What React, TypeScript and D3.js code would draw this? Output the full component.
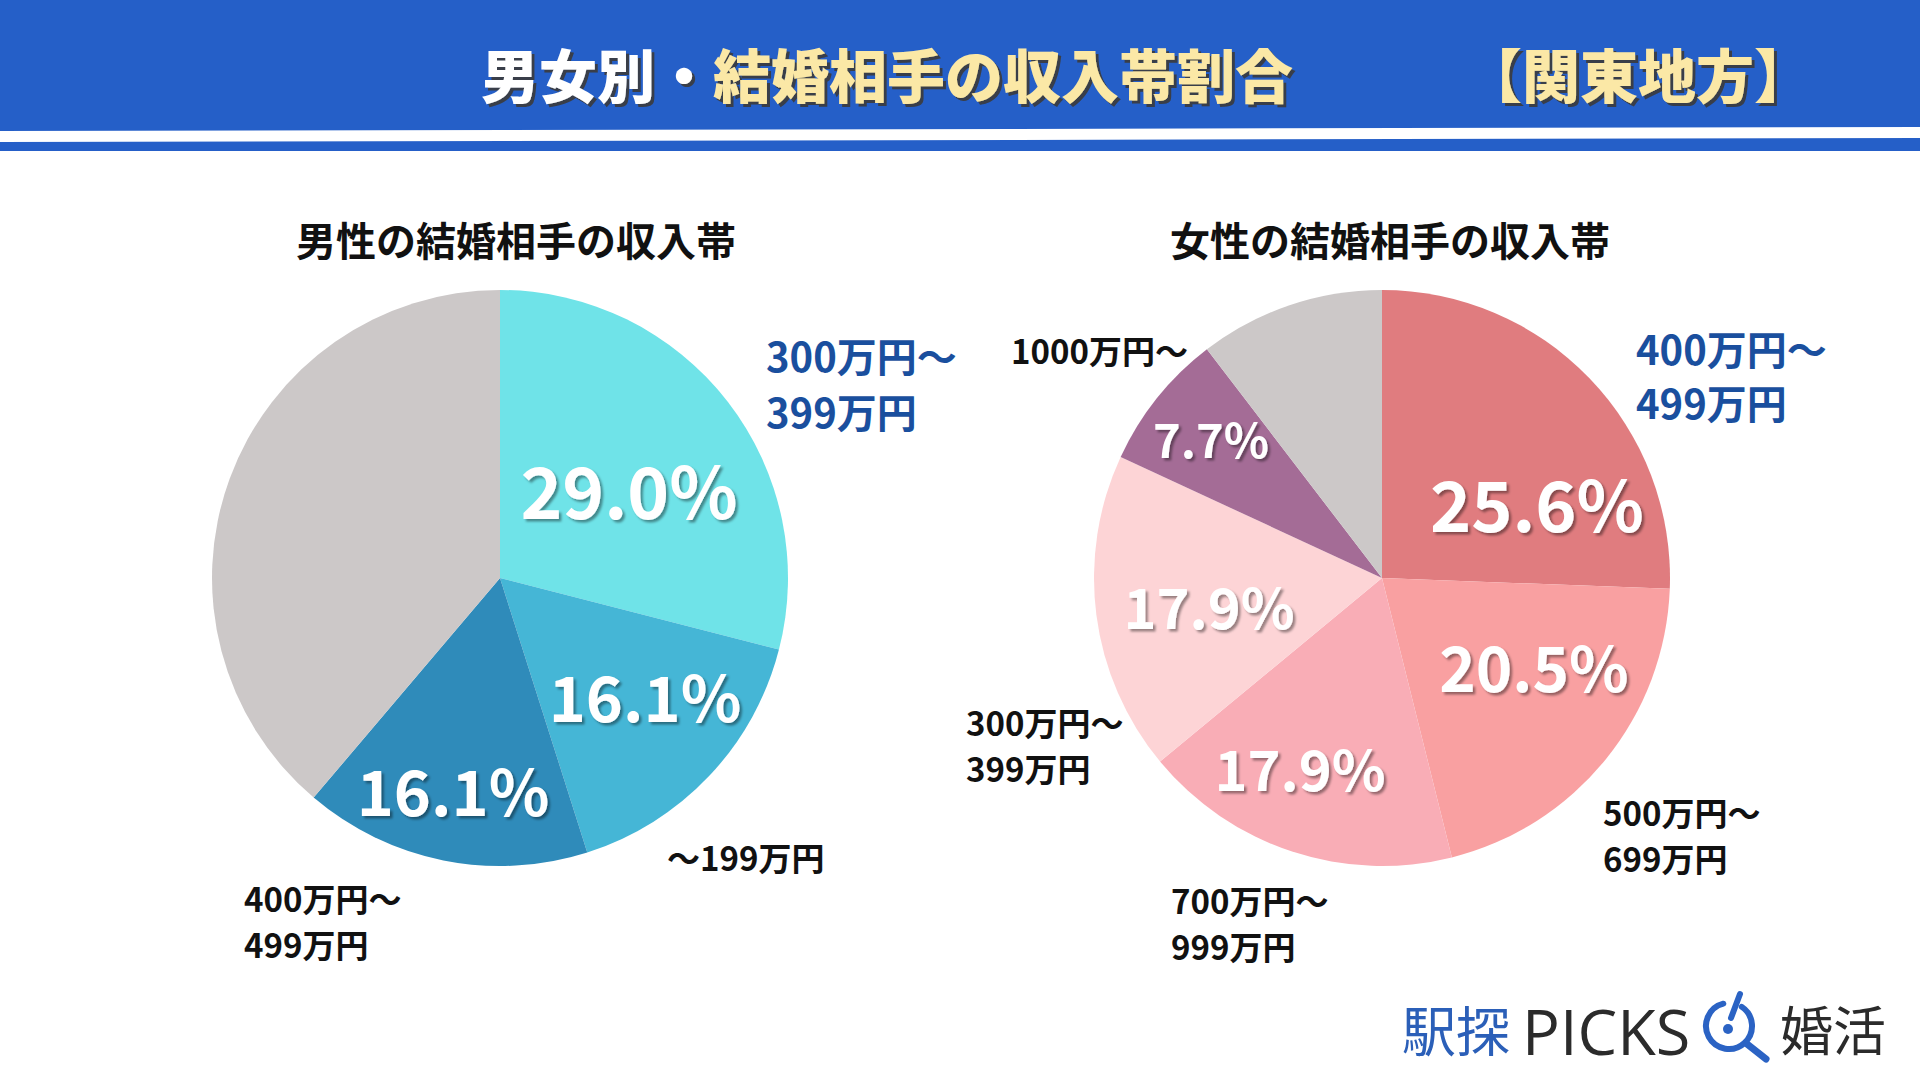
import React from "react";
import * as d3 from "d3";

// ---- data ----
const maleCategories = ["300万円〜399万円", "〜199万円", "400万円〜499万円", "その他"];
const maleValues = [29.0, 16.1, 16.1, 38.8];
const maleShown = ["29.0%", "16.1%", "16.1%", ""];

const femaleCategories = ["400万円〜499万円", "500万円〜699万円", "700万円〜999万円", "300万円〜399万円", "1000万円〜", "その他"];
const femaleValues = [25.6, 20.5, 17.9, 17.9, 7.7, 10.4];
const femaleShown = ["25.6%", "20.5%", "17.9%", "17.9%", "7.7%", ""];

// ---- styles / layout ----
const maleColors = ["#6fe3e8", "#45b6d6", "#2f8bba", "#ccc8c8"];
const femaleColors = ["#e07c7f", "#f9a0a1", "#f9adb6", "#fdd4d6", "#a46c96", "#ccc8c8"];

const R = 288;
const maleCenter = { x: 500, y: 578 };
const femaleCenter = { x: 1382, y: 578 };

const malePctOffsets = [
  { dx: 129, dy: -90, size: 71 },
  { dx: 145, dy: 116, size: 63 },
  { dx: -47, dy: 210, size: 63 },
];
const femalePctOffsets = [
  { dx: 155, dy: -77, size: 70 },
  { dx: 152, dy: 87, size: 62 },
  { dx: -82, dy: 188, size: 56 },
  { dx: -173, dy: 26, size: 56 },
  { dx: -171, dy: -141, size: 47 },
];

type OuterLabel = { lines: string[]; x: number; y: number; size: number; color: string; lh: number };
const maleOuter: OuterLabel[] = [
  { lines: ["300万円〜", "399万円"], x: 766, y: 355, size: 40, color: "#1a4f9e", lh: 56 },
  { lines: ["〜199万円"], x: 667, y: 857, size: 33, color: "#111", lh: 46 },
  { lines: ["400万円〜", "499万円"], x: 244, y: 898, size: 33, color: "#111", lh: 46 },
];
const femaleOuter: OuterLabel[] = [
  { lines: ["400万円〜", "499万円"], x: 1636, y: 348, size: 40, color: "#1a4f9e", lh: 54 },
  { lines: ["1000万円〜"], x: 1011, y: 350, size: 33, color: "#111", lh: 46 },
  { lines: ["300万円〜", "399万円"], x: 966, y: 722, size: 33, color: "#111", lh: 46 },
  { lines: ["500万円〜", "699万円"], x: 1603, y: 812, size: 33, color: "#111", lh: 46 },
  { lines: ["700万円〜", "999万円"], x: 1171, y: 900, size: 33, color: "#111", lh: 46 },
];

const FONT = "'Noto Sans CJK JP', 'Noto Sans', sans-serif";

function Pie({
  values, colors, shown, cx, cy, offsets, outer, cats,
}: {
  values: number[]; colors: string[]; shown: string[]; cx: number; cy: number;
  offsets: { dx: number; dy: number; size: number }[]; outer: OuterLabel[]; cats: string[];
}) {
  const pie = d3.pie<number>().sort(null).value((d) => d).startAngle(0).endAngle(2 * Math.PI);
  const arcs = pie(values);
  const arc = d3.arc<d3.PieArcDatum<number>>().innerRadius(0).outerRadius(R);
  return (
    <g>
      <g transform={`translate(${cx},${cy})`}>
        {arcs.map((a, i) => (
          <path key={cats[i]} d={arc(a) || ""} fill={colors[i]} />
        ))}
        {arcs.map((a, i) =>
          shown[i] && offsets[i] ? (
            <text
              key={"t" + i}
              x={offsets[i].dx}
              y={offsets[i].dy}
              textAnchor="middle"
              dominantBaseline="central"
              fontFamily={FONT}
              fontWeight={700}
              fontSize={offsets[i].size}
              fill="#fff"
              filter="url(#pctShadow)"
            >
              {shown[i]}
            </text>
          ) : null
        )}
      </g>
      {outer.map((o, i) => (
        <text key={"o" + i} fontFamily={FONT} fontWeight={700} fontSize={o.size} fill={o.color}>
          {o.lines.map((l, j) => (
            <tspan key={j} x={o.x} y={o.y + j * o.lh} dominantBaseline="central">
              {l}
            </tspan>
          ))}
        </text>
      ))}
    </g>
  );
}

export default function App() {
  const logoY = 1028;
  return (
    <svg
      width={1920}
      height={1080}
      style={{ position: "absolute", left: 0, top: 0, display: "block", background: "#fff" }}
    >
      <defs>
        <filter id="pctShadow" x="-20%" y="-20%" width="140%" height="140%">
          <feDropShadow dx="2.5" dy="2.5" stdDeviation="1.2" floodColor="#000" floodOpacity="0.4" />
        </filter>
        <filter id="titleShadow" x="-5%" y="-20%" width="110%" height="140%">
          <feDropShadow dx="3" dy="3" stdDeviation="0.6" floodColor="#3a3a3a" floodOpacity="0.9" />
        </filter>
      </defs>
      <rect x={0} y={0} width={1920} height={1080} fill="#fff" />
      {/* header */}
      <rect x={0} y={0} width={1920} height={131} fill="#255fc8" />
      <polygon points="0,131 1920,127 1920,138 0,142" fill="#fff" />
      <polygon points="0,142 1920,138 1920,151 0,151" fill="#255fc8" />
      <text
        x={481}
        y={73}
        dominantBaseline="central"
        fontFamily={FONT}
        fontWeight={900}
        fontSize={58}
        filter="url(#titleShadow)"
      >
        <tspan fill="#ffffff">男女別・</tspan>
        <tspan fill="#fbe8a6">結婚相手の収入帯割合</tspan>
      </text>
      <text
        x={1638}
        y={73}
        textAnchor="middle"
        dominantBaseline="central"
        fontFamily={FONT}
        fontWeight={900}
        fontSize={58}
        fill="#fbe8a6"
        filter="url(#titleShadow)"
      >
        【関東地方】
      </text>

      {/* subtitles */}
      <text x={516} y={239} textAnchor="middle" dominantBaseline="central" fontFamily={FONT} fontWeight={700} fontSize={40} fill="#111">
        男性の結婚相手の収入帯
      </text>
      <text x={1390} y={239} textAnchor="middle" dominantBaseline="central" fontFamily={FONT} fontWeight={700} fontSize={40} fill="#111">
        女性の結婚相手の収入帯
      </text>

      <Pie
        values={maleValues}
        colors={maleColors}
        shown={maleShown}
        cx={maleCenter.x}
        cy={maleCenter.y}
        offsets={malePctOffsets}
        outer={maleOuter}
        cats={maleCategories}
      />
      <Pie
        values={femaleValues}
        colors={femaleColors}
        shown={femaleShown}
        cx={femaleCenter.x}
        cy={femaleCenter.y}
        offsets={femalePctOffsets}
        outer={femaleOuter}
        cats={femaleCategories}
      />

      {/* logo */}
      <text x={1402} y={logoY} dominantBaseline="central" fontFamily={FONT} fontWeight={400} fontSize={54} fill="#2b5fb8">
        駅探
      </text>
      <text x={1522} y={logoY + 2} dominantBaseline="central" fontFamily="'Open Sans', 'Noto Sans', sans-serif" fontWeight={400} fontSize={63} fill="#2b2b2b">
        PICKS
      </text>
      <g transform={`translate(1729,1026)`}>
        <path
          d={(() => {
            const p = d3.path();
            p.arc(0, 0, 23, -Math.PI / 3.2, -Math.PI / 2 - 0.25 + 2 * Math.PI, false);
            return p.toString();
          })()}
          fill="none"
          stroke="#2b63c4"
          strokeWidth={6}
          strokeLinecap="round"
        />
        <line x1={11} y1={-32} x2={2} y2={-8} stroke="#2b63c4" strokeWidth={6} strokeLinecap="round" />
        <circle cx={-1} cy={3} r={5} fill="#2b63c4" />
        <line x1={18} y1={18} x2={37} y2={33} stroke="#2b63c4" strokeWidth={7} strokeLinecap="round" />
      </g>
      <text x={1780} y={logoY} dominantBaseline="central" fontFamily={FONT} fontWeight={400} fontSize={53} fill="#2b2b2b">
        婚活
      </text>
    </svg>
  );
}
